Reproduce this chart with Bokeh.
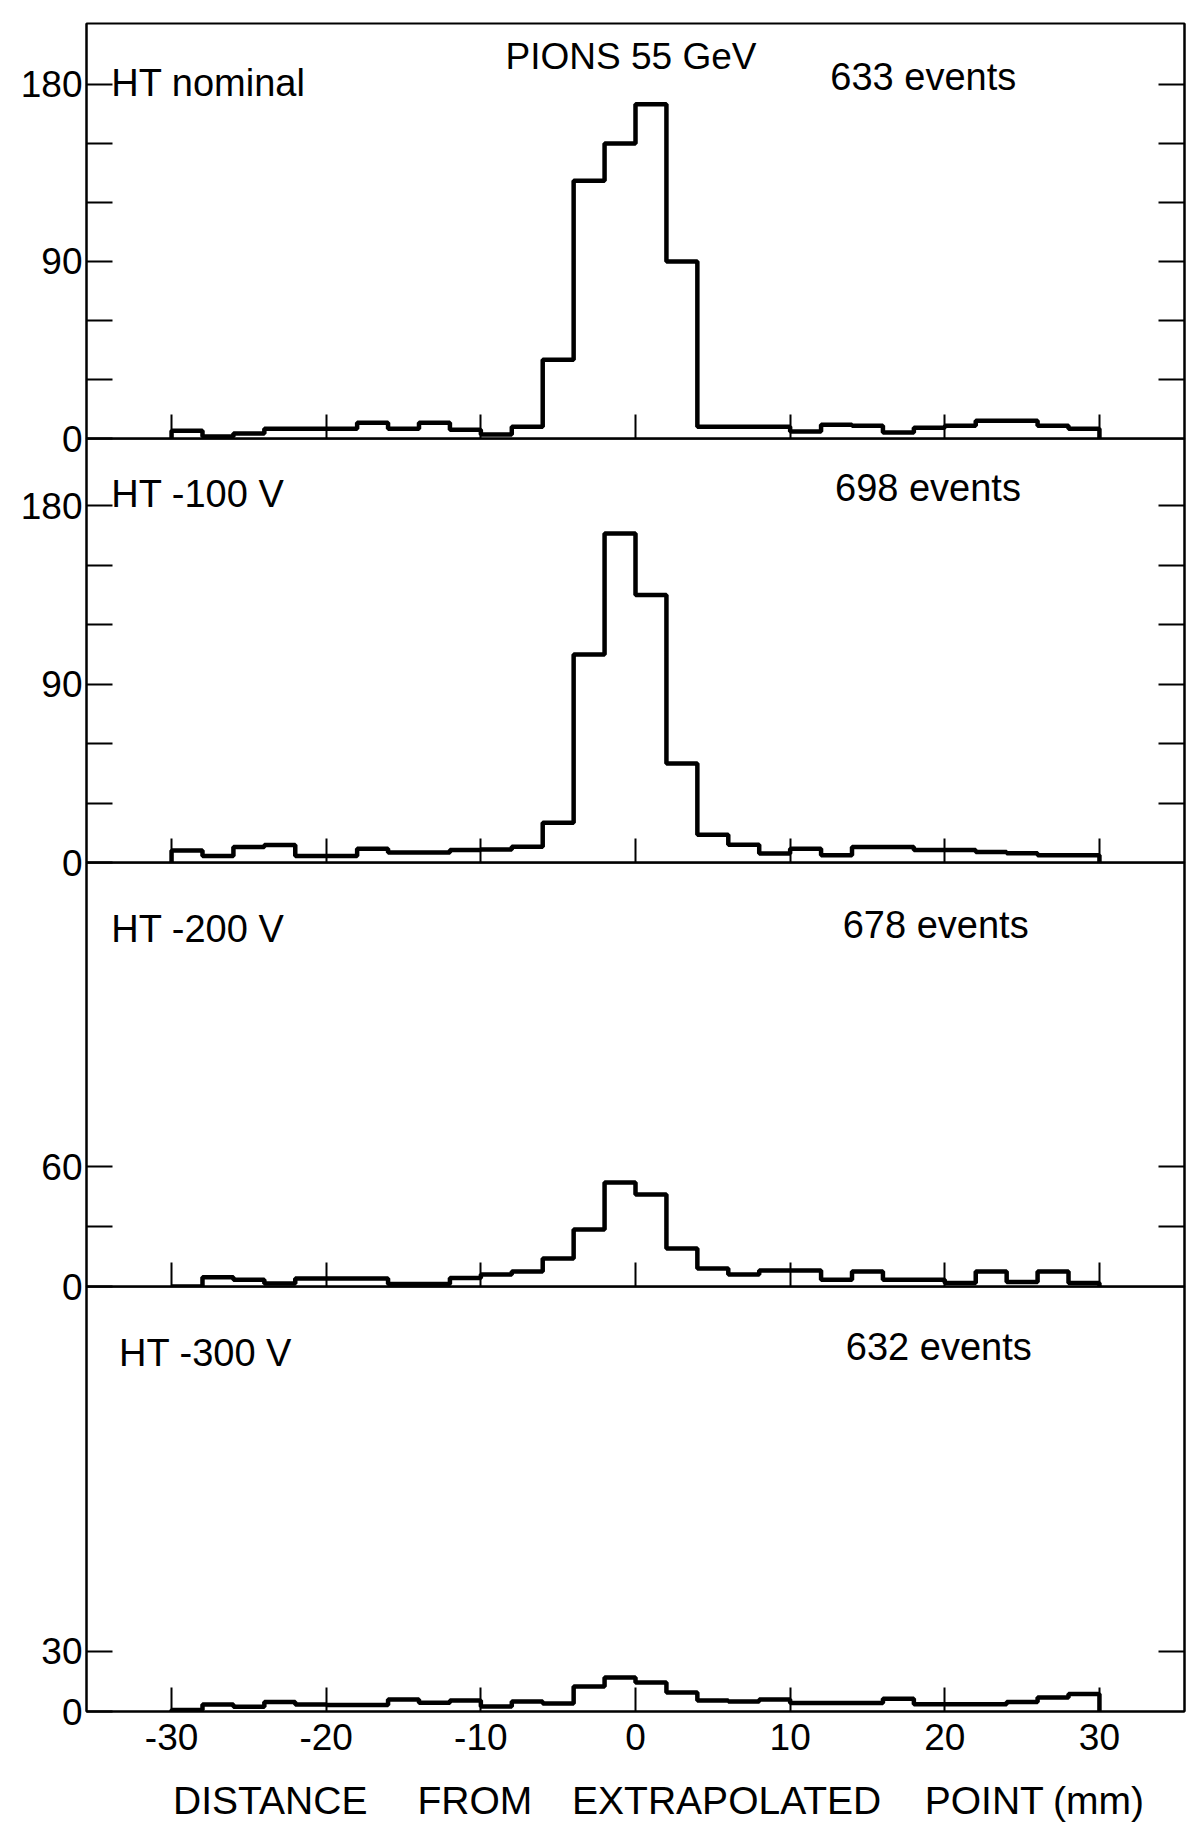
from bokeh.plotting import figure
from bokeh.models import Range1d, FixedTicker, LinearAxis, Label, ColumnDataSource
from bokeh.core.properties import value
from bokeh.layouts import column
from bokeh.embed import file_html
from bokeh.resources import INLINE

# ---------------- data ----------------
bin_edges_mm = [-30, -28, -26, -24, -22, -20, -18, -16, -14, -12, -10, -8, -6, -4, -2,
                0, 2, 4, 6, 8, 10, 12, 14, 16, 18, 20, 22, 24, 26, 28, 30]

counts_nominal = [4, 1, 2.5, 5, 5, 5, 8, 5, 8, 4.5, 2, 6, 40, 131, 150,
                  170, 90, 6, 6, 6, 3.5, 7, 6.5, 3, 5.5, 6.5, 9, 9, 6.5, 5]
counts_100v = [6, 3.3, 7.8, 8.8, 3.3, 3.3, 7, 5, 5, 6.3, 6.5, 8, 20, 105, 166,
               135, 50, 14, 9, 4.5, 7, 3.7, 7.8, 7.8, 6.3, 6.3, 5.3, 4.7, 3.7, 3.7]
counts_200v = [0, 4.6, 3.4, 1.5, 4, 4, 4, 1.3, 1.3, 4.3, 6, 7.5, 14, 28.5, 52,
               46, 19, 9, 6, 8, 8, 3.4, 7.5, 3.4, 3.4, 1.8, 7.5, 2.3, 7.5, 1.8]
counts_300v = [0.8, 3.5, 2.4, 4.7, 3.5, 3.2, 3.2, 6, 4.4, 5.5, 2.5, 5, 4, 12.5, 17,
               14.5, 9.5, 5.5, 5, 6, 4.3, 4.3, 4.3, 6.3, 3.6, 3.6, 3.6, 4.8, 7, 8.7]

panel_labels = ["HT nominal", "HT -100 V", "HT -200 V", "HT -300 V"]
event_labels = ["633 events", "698 events", "678 events", "632 events"]
title_text = "PIONS 55 GeV"

x_ticks = [-30, -20, -10, 0, 10, 20, 30]
x_tick_labels = ["-30", "-20", "-10", "0", "10", "20", "30"]

y_major_ticks = [[0, 90, 180], [0, 90, 180], [0, 60], [0, 30]]
y_minor_ticks = [[30, 60, 120, 150], [30, 60, 120, 150], [30], []]
y_right_ticks = [[30, 60, 90, 120, 150, 180], [30, 60, 90, 120, 150, 180], [30, 60], [30]]

axis_title_words = ["DISTANCE", "FROM", "EXTRAPOLATED", "POINT", "(mm)"]

# ---------------- layout / style ----------------
FONT = "Liberation Sans"
FS = "37px"
FS_TEXT = "38px"
FS_TITLE = "39px"
frame_heights = [415, 424, 424, 425]
y_ends = [211, 214, 212, 212]
label_y = [(181, 184), (186, 189), (179, 181), (179, 182)]
label_x_left = [-33.9, -33.9, -33.9, -33.4]
events_x_left = [12.6, 12.9, 13.4, 13.6]
word_x_mm = [-29.9, -14.1, -4.1, 18.7, 27.0]
OVERLAP = 28          # room below panels 1-3 so the "0" labels are not cut
BOTTOM_TICKS = 90     # room under the last panel (tick labels live in its top part)
TITLE_H = 49          # strip holding the x-axis title words
TITLE_PULL = 26       # the strip is pulled up over the empty lower part of that room

series = [counts_nominal, counts_100v, counts_200v, counts_300v]
x_range = Range1d(-35.5, 35.5)

figs = []
for i, counts in enumerate(series):
    last = i == len(series) - 1
    p = figure(frame_width=1098, frame_height=frame_heights[i],
               x_range=x_range, y_range=Range1d(0, y_ends[i]),
               output_backend="svg", toolbar_location=None,
               min_border_left=86, min_border_right=2,
               min_border_top=23 if i == 0 else 0,
               min_border_bottom=BOTTOM_TICKS if last else OVERLAP,
               margin=(0, 0, 0 if last else -OVERLAP, 0),
               background_fill_alpha=0, border_fill_alpha=0,
               outline_line_color="black", outline_line_width=2)
    p.xgrid.visible = False
    p.ygrid.visible = False

    # histogram outline
    xs = [bin_edges_mm[0]] + bin_edges_mm
    ys = [0] + counts + [0]
    src = ColumnDataSource(dict(x=xs, y=ys))
    p.step("x", "y", source=src, mode="after", line_color="black", line_width=4.5)

    # left axis
    ya = p.yaxis[0]
    ya.ticker = FixedTicker(ticks=y_major_ticks[i], minor_ticks=y_minor_ticks[i])
    ya.axis_line_color = "black"
    ya.axis_line_width = 2
    ya.major_tick_in = 26
    ya.major_tick_out = 0
    ya.minor_tick_in = 26
    ya.minor_tick_out = 0
    ya.major_tick_line_width = 2
    ya.minor_tick_line_width = 2
    ya.major_tick_line_color = "black"
    ya.minor_tick_line_color = "black"
    ya.major_label_standoff = 4
    ya.major_label_text_font = FONT
    ya.major_label_text_font_size = FS
    ya.major_label_text_color = "black"

    # right axis (ticks only)
    ra = LinearAxis(ticker=FixedTicker(ticks=y_right_ticks[i]),
                    major_tick_in=26, major_tick_out=0,
                    minor_tick_in=0, minor_tick_out=0,
                    major_tick_line_width=2, major_tick_line_color="black",
                    axis_line_color="black", axis_line_width=2,
                    major_label_standoff=0,
                    major_label_text_font_size="0px",
                    major_label_overrides={t: "" for t in y_right_ticks[i]})
    p.add_layout(ra, "right")

    # bottom axis
    xa = p.xaxis[0]
    xa.ticker = FixedTicker(ticks=x_ticks, minor_ticks=[])
    xa.axis_line_color = "black"
    xa.axis_line_width = 2
    xa.major_tick_in = 24
    xa.major_tick_out = 0
    xa.major_tick_line_width = 2
    xa.major_tick_line_color = "black"
    if last:
        xa.major_label_overrides = {t: s for t, s in zip(x_ticks, x_tick_labels)}
        xa.major_label_standoff = 12
        xa.major_label_text_font = FONT
        xa.major_label_text_font_size = FS
        xa.major_label_text_color = "black"
    else:
        xa.major_label_overrides = {t: "" for t in x_ticks}
        xa.major_label_standoff = 0
        xa.major_label_text_font_size = "0px"

    # panel texts
    p.add_layout(Label(x=label_x_left[i], y=label_y[i][0], text=panel_labels[i],
                       text_font=FONT, text_font_size=FS_TEXT, text_color="black",
                       text_baseline="middle", text_align="left"))
    p.add_layout(Label(x=events_x_left[i], y=label_y[i][1], text=event_labels[i],
                       text_font=FONT, text_font_size=FS_TEXT, text_color="black",
                       text_baseline="middle", text_align="left"))
    if i == 0:
        p.add_layout(Label(x=-8.4, y=194, text=title_text,
                           text_font=FONT, text_font_size=FS, text_color="black",
                           text_baseline="middle", text_align="left"))
    figs.append(p)

# strip with the x-axis title (words spread as in the original lettering)
pt = figure(frame_width=1098, frame_height=TITLE_H, x_range=x_range,
            y_range=Range1d(0, TITLE_H), output_backend="svg", toolbar_location=None,
            x_axis_type=None, y_axis_type=None, title=None,
            min_border_left=86, min_border_right=2, min_border_top=0, min_border_bottom=0,
            margin=(-TITLE_PULL, 0, 0, 0),
            outline_line_color=None, background_fill_alpha=0, border_fill_alpha=0)
pt.xgrid.visible = False
pt.ygrid.visible = False
tsrc = ColumnDataSource(dict(x=word_x_mm, y=[TITLE_H / 2] * len(word_x_mm), t=axis_title_words))
pt.text("x", "y", text="t", source=tsrc, text_font=value(FONT), text_font_size=value(FS_TITLE),
        text_color="black", text_baseline="middle", text_align="left")
figs.append(pt)

layout = column(*figs, spacing=0)
open("out.html", "w").write(file_html(layout, INLINE))
